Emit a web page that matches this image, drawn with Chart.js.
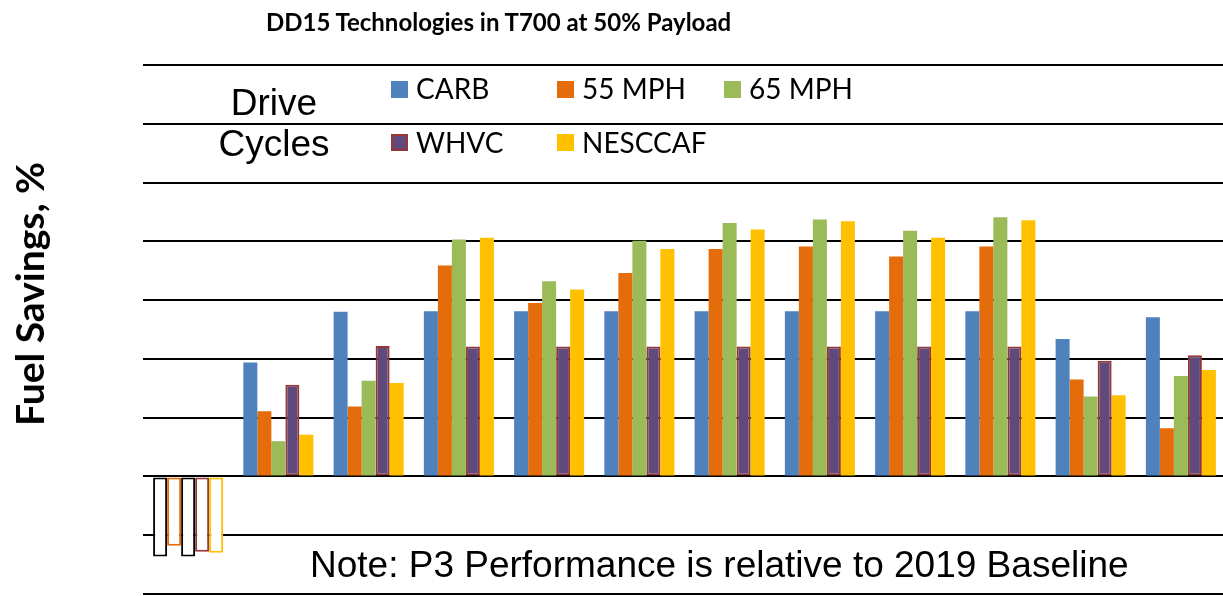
<!DOCTYPE html>
<html lang="en">
<head>
    <meta charset="UTF-8">
    <title>DD15 Technologies in T700 at 50% Payload</title>
    <script src="https://cdn.jsdelivr.net/npm/chart.js@4.4.1/dist/chart.umd.min.js"></script>
    <style>
        body {
            margin: 0;
            background: #fff;
            overflow: hidden;
            width: 1223px;
            height: 596px;
            position: relative;
        }
        #wrap {
            position: absolute;
            left: 0;
            top: 0;
            width: 1228px;
            height: 596px;
        }
        .txt {
            position: absolute;
            line-height: 1;
            white-space: nowrap;
            color: #000;
        }
        #title {
            left: 266px;
            top: 7px;
            font: bold 24px Lato, sans-serif;
        }
        #ylabel {
            left: 29px;
            top: 294px;
            font: bold 39px Lato, sans-serif;
            transform: translate(-50%, -50%) rotate(-90deg);
        }
        .drive {
            font: 37px "Liberation Sans", Arial, sans-serif;
            transform: translateX(-50%);
            left: 274px;
        }
        #note {
            left: 310px;
            top: 544px;
            font: 37px "Liberation Sans", Arial, sans-serif;
        }
        .leg {
            position: absolute;
            font: 28px Lato, sans-serif;
            line-height: 1;
            white-space: nowrap;
        }
        .leg i {
            position: absolute;
            left: 0;
            width: 17px;
            height: 17px;
            box-sizing: border-box;
        }
        .leg span {
            position: absolute;
            left: 25px;
            top: 0;
        }
    </style>
</head>
<body>
    <div id="wrap"><canvas id="chart" width="1228" height="596"></canvas></div>

    <div class="txt" id="title">DD15 Technologies in T700 at 50% Payload</div>
    <div class="txt" id="ylabel">Fuel Savings, %</div>
    <div class="txt drive" style="top:82px">Drive</div>
    <div class="txt drive" style="top:123px">Cycles</div>
    <div class="txt" id="note">Note: P3 Performance is relative to 2019 Baseline</div>
    <div id="legend"></div>

    <script>
        // 12 technology packages, names not shown on the chart
        const categories = ['', '', '', '', '', '', '', '', '', '', '', ''];

        // fuel savings, % (gridlines every 2 %)
        const carb    = [-2.72, 3.88, 5.60, 5.62, 5.62, 5.62, 5.62, 5.62, 5.62, 5.62, 4.68, 5.42];
        const mph55   = [-2.36, 2.22, 2.38, 7.18, 5.90, 6.92, 7.74, 7.82, 7.48, 7.82, 3.30, 1.64];
        const mph65   = [-2.72, 1.20, 3.26, 8.06, 6.64, 8.02, 8.62, 8.74, 8.36, 8.82, 2.72, 3.42];
        const whvc    = [-2.56, 3.12, 4.44, 4.42, 4.42, 4.42, 4.42, 4.42, 4.42, 4.42, 3.94, 4.12];
        const nesccaf = [-2.60, 1.42, 3.18, 8.12, 6.36, 7.74, 8.40, 8.68, 8.12, 8.72, 2.76, 3.62];

        const yTicks = [-4, -2, 0, 2, 4, 6, 8, 10, 12, 14];

        // fill, outline, outline width, outline for negative (hollow) bars
        function series(label, data, fill, edge, edgeW, negEdge) {
            return {
                label: label,
                data: data,
                fill: fill,
                edge: edge,
                backgroundColor: c => c.raw < 0 ? '#ffffff' : fill,
                borderColor: c => c.raw < 0 ? negEdge : edge,
                borderWidth: c => c.raw < 0 ? 2 : edgeW,
                borderSkipped: false,
                barPercentage: 1,
                categoryPercentage: 0.776
            };
        }

        const datasets = [
            series('CARB', carb, '#4F81BD', '#4F81BD', 0, '#000000'),
            series('55 MPH', mph55, '#E46C0A', '#E46C0A', 0, '#E46C0A'),
            series('65 MPH', mph65, '#9BBB59', '#9BBB59', 0, '#000000'),
            series('WHVC', whvc, '#604A7B', '#953735', 2, '#953735'),
            series('NESCCAF', nesccaf, '#FFC000', '#FFC000', 0, '#FFC000')
        ];

        const chart = new Chart(document.getElementById('chart'), {
            type: 'bar',
            data: { labels: categories, datasets: datasets },
            options: {
                responsive: false,
                animation: false,
                layout: { padding: { left: 143, top: 65, right: 2, bottom: 2 } },
                plugins: {
                    legend: { display: false },
                    title: { display: false },
                    tooltip: { enabled: false }
                },
                scales: {
                    x: { display: false },
                    y: {
                        min: yTicks[0],
                        max: yTicks[yTicks.length - 1],
                        afterBuildTicks: s => { s.ticks = yTicks.map(v => ({ value: v })); },
                        ticks: { display: false },
                        border: { display: false },
                        grid: { color: '#000000', lineWidth: 2, drawTicks: false }
                    }
                }
            }
        });

        // legend in two rows, as in the original slide
        const legend = document.getElementById('legend');
        const rows = [[0, 1, 2], [3, 4]];
        const colX = [391, 557, 724];
        const rowY = [74, 128];
        rows.forEach((row, r) => {
            row.forEach((di, c) => {
                const ds = chart.data.datasets[di];
                const item = document.createElement('div');
                item.className = 'leg';
                item.style.left = colX[c] + 'px';
                item.style.top = rowY[r] + 'px';
                const box = document.createElement('i');
                box.style.background = ds.fill;
                box.style.top = (r === 0 ? 7 : 6) + 'px';
                if (ds.edge !== ds.fill) box.style.border = '2px solid ' + ds.edge;
                const label = document.createElement('span');
                label.textContent = ds.label;
                item.appendChild(box);
                item.appendChild(label);
                legend.appendChild(item);
            });
        });
    </script>
</body>
</html>
